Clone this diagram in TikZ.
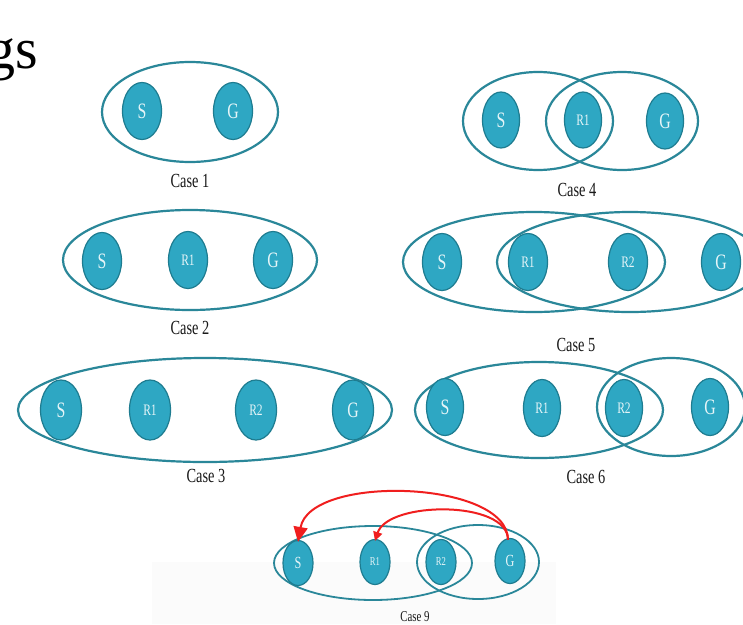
\documentclass[tikz,border=0pt]{standalone}
\usepackage{fontspec}
\setmainfont{Liberation Serif}
\newfontfamily\condfont[FakeStretch=0.72]{Liberation Serif}
\usetikzlibrary{shapes.geometric,arrows.meta}
\definecolor{nodefill}{HTML}{2EA7C3}
\definecolor{nodeedge}{HTML}{1E7C90}
\definecolor{ringcol}{HTML}{2A8799}
\definecolor{arrowred}{HTML}{F01E1E}
\tikzset{
  agent/.style={ellipse, fill=nodefill, draw=nodeedge, line width=1.2pt,
    minimum width=39pt, minimum height=57pt, inner sep=0pt,
    text=white!88!nodefill, font=\condfont\fontsize{22}{22}\selectfont},
  agentsm/.style={agent, font=\condfont\fontsize{16}{16}\selectfont},
  agentnine/.style={agent, minimum width=30pt, minimum height=45pt, font=\condfont\fontsize{17}{17}\selectfont},
  agentninesm/.style={agentnine, font=\condfont\fontsize{12}{12}\selectfont},
  ring/.style={draw=ringcol, line width=2.2pt},
  ringthin/.style={draw=ringcol, line width=1.8pt},
  caselabel/.style={text=black!90, font=\condfont\fontsize{20}{20}\selectfont, inner sep=0pt},
  redarrow/.style={draw=arrowred, line width=2pt},
}
\begin{document}
\begin{tikzpicture}[x=1pt,y=-1pt]
\useasboundingbox (0,0) rectangle (743,624);
\clip (0,0) rectangle (743,624);
\fill[white] (0,0) rectangle (743,624);
\fill[black!1.5] (152,562) rectangle (556,624);

% title fragment
\node[anchor=base west, inner sep=0pt, font=\fontsize{58}{58}\selectfont] (title) at (-14,68) {gs};

% Case 1
\draw[ring] (190,112) ellipse [x radius=88pt, y radius=50pt];
\node[agent] (s1) at (142,111) {S};
\node[agent] (g1) at (233,111) {G};
\node[caselabel] (c1) at (190,181) {Case 1};

% Case 2
\draw[ring] (190,260) ellipse [x radius=127pt, y radius=50pt];
\node[agent] (s2) at (102,261) {S};
\node[agentsm] (r12) at (188,260) {R1};
\node[agent] (g2) at (273,260) {G};
\node[caselabel] (c2) at (190,328) {Case 2};

% Case 3
\draw[ring] (205,410) ellipse [x radius=187pt, y radius=52pt];
\node[agent, minimum width=41pt, minimum height=60pt] (s3) at (61,410) {S};
\node[agentsm, minimum width=41pt, minimum height=60pt] (r13) at (150,410) {R1};
\node[agentsm, minimum width=41pt, minimum height=60pt] (r23) at (256,410) {R2};
\node[agent, minimum width=41pt, minimum height=60pt] (g3) at (353,410) {G};
\node[caselabel] (c3) at (206,476) {Case 3};

% Case 4
\draw[ring] (538,121) ellipse [x radius=75pt, y radius=49pt];
\draw[ring] (622,121) ellipse [x radius=76pt, y radius=49pt];
\node[agent, minimum width=37pt, minimum height=56pt] (s4) at (501,120) {S};
\node[agentsm, minimum width=37pt, minimum height=56pt] (r14) at (583,120) {R1};
\node[agent, minimum width=37pt, minimum height=56pt] (g4) at (665,121) {G};
\node[caselabel] (c4) at (577,190) {Case 4};

% Case 5
\draw[ring] (534,262) ellipse [x radius=131pt, y radius=50pt];
\draw[ring] (630,262) ellipse [x radius=133pt, y radius=50pt];
\node[agent] (s5) at (442,262) {S};
\node[agentsm] (r15) at (528,262) {R1};
\node[agentsm] (r25) at (628,262) {R2};
\node[agent] (g5) at (721,262) {G};
\node[caselabel] (c5) at (576,345) {Case 5};

% Case 6
\draw[ring] (539,410) ellipse [x radius=124pt, y radius=48pt];
\draw[ring] (671,407) ellipse [x radius=74pt, y radius=49pt];
\node[agent, minimum width=37pt, minimum height=57pt] (s6) at (445,407) {S};
\node[agentsm, minimum width=37pt, minimum height=57pt] (r16) at (542,408) {R1};
\node[agentsm, minimum width=37pt, minimum height=57pt] (r26) at (624,408) {R2};
\node[agent, minimum width=37pt, minimum height=57pt] (g6) at (710,407) {G};
\node[caselabel] (c6) at (586,477) {Case 6};

% Case 9
\draw[ringthin] (373,563) ellipse [x radius=99pt, y radius=37pt];
\draw[ringthin] (478,562) ellipse [x radius=61pt, y radius=37pt];
\node[agentnine] (s9) at (298,563) {S};
\node[agentninesm] (r19) at (375,562) {R1};
\node[agentninesm] (r29) at (441,562) {R2};
\node[agentnine] (g9) at (510,561) {G};
\node[caselabel, font=\condfont\fontsize{15}{15}\selectfont] (c9) at (415,617) {Case 9};

\draw[redarrow, -{Triangle[length=15pt,width=14pt]}]
  ([xshift=-2pt,yshift=-2pt]g9.north) .. controls +(0,-60) and +(12,-68) .. ([yshift=-2pt]s9.north);
\draw[redarrow, -{Triangle[length=9pt,width=9pt]}]
  ([xshift=-2pt,yshift=-2pt]g9.north) .. controls +(0,-40) and +(13,-40) .. ([yshift=-2pt]r19.north);
\end{tikzpicture}
\end{document}
